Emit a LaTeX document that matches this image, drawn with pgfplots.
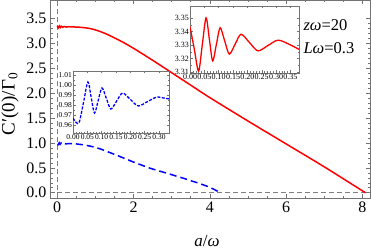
\documentclass[border=0pt]{standalone}
\usepackage{fontspec}
\setmainfont{Liberation Serif}
\usepackage{pgfplots}
\pgfplotsset{compat=1.18}
\definecolor{framegray}{gray}{0.45}
\definecolor{refgray}{gray}{0.5}
\begin{document}
\begin{tikzpicture}
\path[use as bounding box] (-50pt,-51pt) rectangle (321pt,198pt);
\begin{axis}[
 at={(0pt,0pt)}, anchor=south west, scale only axis,
 width=320pt, height=198pt,
 xmin=-0.19, xmax=8.2, ymin=-0.106, ymax=3.87,
 xtick={0,2,4,6,8}, ytick={0,0.5,1,1.5,2,2.5,3,3.5},
 minor x tick num=3, minor y tick num=4,
 tick align=inside,
 major tick length=4.5pt, minor tick length=2.5pt,
 axis line style={framegray, line width=0.6pt},
 every tick/.style={framegray, line width=0.5pt},
 tick label style={font=\fontsize{16}{18}\selectfont, black},
 /pgf/number format/assume math mode=true,
 yticklabel style={/pgf/number format/.cd, fixed, fixed zerofill, precision=1},
 xticklabel style={/pgf/number format/.cd, fixed, precision=0},
]
\addplot[refgray, line width=1.3pt, dash pattern=on 5pt off 3pt] coordinates {(0,-0.106) (0,3.87)};
\addplot[refgray, line width=1.3pt, dash pattern=on 5pt off 3pt] coordinates {(0,0) (8.2,0)};
\addplot[red, line width=1.5pt, smooth] coordinates {
(0,3.344) (0.03,3.311) (0.056,3.350) (0.08,3.318) (0.105,3.343) (0.14,3.323)
(0.18,3.338) (0.24,3.326) (0.31,3.334) (0.4,3.329) (0.5,3.327) (0.6,3.322)
(0.8,3.305) (1.0,3.27) (1.25,3.20) (1.5,3.11) (1.75,3.01) (2.0,2.90)
(2.5,2.66) (3.0,2.41) (3.5,2.16) (4.0,1.91) (5.0,1.44) (6.0,0.98) (7.0,0.52) (8.08,0.0)};
\addplot[blue, line width=1.5pt, dash pattern=on 7pt off 4pt] coordinates {
(0,0.967) (0.022,0.963) (0.052,1.003) (0.075,0.972) (0.101,0.997) (0.132,0.976)
(0.173,0.992) (0.228,0.979) (0.293,0.988) (0.346,0.986) (0.5,0.98) (0.7,0.96)
(0.9,0.93) (1.13,0.88) (1.57,0.75) (2.0,0.615) (2.44,0.49) (2.88,0.39)
(3.31,0.29) (3.75,0.18) (4.0,0.11) (4.28,0.0)};
\end{axis}
\node[font=\fontsize{17}{19}\selectfont] at (157pt,-43pt) {\textit{a}/\textit{ω}};
\node[font=\fontsize{19}{21}\selectfont, rotate=90, inner sep=0pt] at (-40pt,94pt) {C′(0)/Γ\textsubscript{0}};
% blue inset
\begin{axis}[
 at={(23pt,65pt)}, anchor=south west, scale only axis,
 width=96pt, height=62pt,
 xmin=0, xmax=0.335, ymin=0.952, ymax=1.014,
 xtick={0,0.05,0.1,0.15,0.2,0.25,0.3}, ytick={0.96,0.97,0.98,0.99,1.0,1.01},
 minor x tick num=4, minor y tick num=1,
 tick align=inside,
 major tick length=2.5pt, minor tick length=1.5pt,
 axis background/.style={fill=white},
 axis line style={framegray, line width=0.5pt},
 every tick/.style={framegray, line width=0.4pt},
 tick label style={font=\fontsize{7.5}{8}\selectfont, black, inner sep=1pt},
 /pgf/number format/assume math mode=true,
 /pgf/number format/.cd, fixed, fixed zerofill, precision=2,
]
\addplot[blue, line width=1.3pt, smooth, dash pattern=on 3pt off 1.5pt] coordinates {
(0,0.967) (0.011,0.9625) (0.022,0.963) (0.037,0.983) (0.052,1.003) (0.0635,0.9875)
(0.075,0.972) (0.088,0.9845) (0.101,0.997) (0.1165,0.9865) (0.132,0.976)
(0.1525,0.984) (0.173,0.992) (0.2005,0.9855) (0.228,0.979) (0.2605,0.9835)
(0.293,0.988) (0.316,0.987) (0.338,0.986)};
\end{axis}
% red inset
\begin{axis}[
 at={(140pt,125pt)}, anchor=south west, scale only axis,
 width=109pt, height=67pt,
 xmin=0, xmax=0.38, ymin=3.3093, ymax=3.3589,
 xtick={0,0.05,0.1,0.15,0.2,0.25,0.3,0.35}, ytick={3.31,3.32,3.33,3.34,3.35},
 minor x tick num=4, minor y tick num=1,
 tick align=inside,
 major tick length=2.5pt, minor tick length=1.5pt,
 axis background/.style={fill=white},
 axis line style={framegray, line width=0.5pt},
 every tick/.style={framegray, line width=0.4pt},
 tick label style={font=\fontsize{8}{9}\selectfont, black, inner sep=1pt},
 /pgf/number format/assume math mode=true,
 /pgf/number format/.cd, fixed, fixed zerofill, precision=2,
]
\addplot[red, line width=1.3pt, smooth] coordinates {
(0,3.3436) (0.015,3.327) (0.030,3.3107) (0.043,3.3305) (0.056,3.3502) (0.0675,3.3343)
(0.079,3.3183) (0.092,3.3305) (0.105,3.3428) (0.121,3.333) (0.137,3.3233)
(0.1575,3.3307) (0.178,3.3380) (0.2075,3.3318) (0.237,3.3257) (0.272,3.3297)
(0.307,3.3336) (0.346,3.3305) (0.38,3.3268)};
\end{axis}
\node[font=\fontsize{16.5}{18}\selectfont, anchor=west] at (250pt,173pt) {\textit{zω}=20};
\node[font=\fontsize{16.5}{18}\selectfont, anchor=west] at (250pt,150pt) {\textit{Lω}=0.3};
\end{tikzpicture}
\end{document}
